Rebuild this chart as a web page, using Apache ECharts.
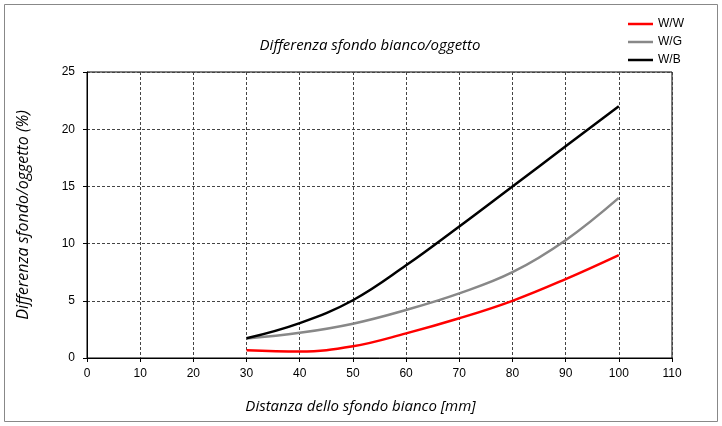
<!DOCTYPE html>
<html><head><meta charset="utf-8">
<script src="https://cdn.jsdelivr.net/npm/echarts@6/dist/echarts.min.js"></script>
<style>html,body{margin:0;padding:0;background:#fff}#c{width:722px;height:426px}</style>
</head><body><div id="c"></div>
<script>
const xValues = [30, 40, 50, 60, 70, 80, 90, 100];
const wW = [0.68, 0.57, 1.02, 2.15, 3.47, 5.0, 6.9, 9.0];
const wG = [1.7, 2.2, 3.0, 4.2, 5.65, 7.5, 10.3, 14.0];
const wB = [1.72, 3.05, 5.05, 8.1, 11.5, 15.0, 18.5, 22.0];
const seriesNames = ['W/W', 'W/G', 'W/B'];
const seriesColors = ['#ff0000', '#888888', '#000000'];
const titleText = 'Differenza sfondo bianco/oggetto';
const xName = 'Distanza dello sfondo bianco [mm]';
const yName = 'Differenza sfondo/oggetto (%)';

const pair = arr => xValues.map((x, i) => [x, arr[i]]);
const chart = echarts.init(document.getElementById('c'), null, {renderer: 'canvas'});
const italicFont = 'Open Sans';
chart.setOption({
  animation: false,
  backgroundColor: '#fff',
  title: {
    text: titleText, left: 365, top: 33, textAlign: 'center',
    textStyle: {fontFamily: italicFont, fontStyle: 'italic', fontWeight: 'normal', fontSize: 15, color: '#000'}
  },
  legend: {
    orient: 'vertical', left: 623, top: 13, itemGap: 6,
    itemWidth: 25, itemHeight: 12, icon: 'path://M0,5 L25,5 L25,7.5 L0,7.5 Z',
    textStyle: {fontFamily: 'Liberation Sans', fontSize: 12, color: '#000'},
    data: seriesNames
  },
  grid: {left: 87, right: 50, top: 72, bottom: 68, show: true, borderColor: '#000', borderWidth: 1},
  xAxis: {
    type: 'value', min: 0, max: 110, interval: 10,
    name: xName, nameLocation: 'middle', nameGap: 41,
    nameTextStyle: {fontFamily: italicFont, fontStyle: 'italic', fontSize: 15, color: '#000', padding: [0, 38, 0, 0]},
    axisLine: {lineStyle: {color: '#000', width: 1}},
    axisTick: {show: true, length: 4, lineStyle: {color: '#000'}},
    axisLabel: {fontFamily: 'Liberation Sans', fontSize: 12, color: '#000', margin: 10},
    splitLine: {show: true, lineStyle: {color: '#444', type: [3, 2], width: 1}}
  },
  yAxis: {
    type: 'value', min: 0, max: 25, interval: 5,
    name: yName, nameLocation: 'middle', nameGap: 56,
    nameTextStyle: {fontFamily: italicFont, fontStyle: 'italic', fontSize: 16, color: '#000'},
    axisLine: {show: true, lineStyle: {color: '#000', width: 1}},
    axisTick: {show: true, length: 4, lineStyle: {color: '#000'}},
    axisLabel: {fontFamily: 'Liberation Sans', fontSize: 12, color: '#000', margin: 12},
    splitLine: {show: true, lineStyle: {color: '#444', type: [3, 2], width: 1}}
  },
  graphic: [{
    type: 'rect', shape: {x: 4.5, y: 4.5, width: 713, height: 417},
    style: {fill: 'none', stroke: '#888', lineWidth: 1}, silent: true, z: -1
  }],
  series: [wW, wG, wB].map((d, i) => ({
    name: seriesNames[i], type: 'line', data: pair(d), smooth: 0.4,
    showSymbol: false, symbol: 'none',
    lineStyle: {color: seriesColors[i], width: 2.5},
    itemStyle: {color: seriesColors[i]}
  }))
});
</script></body></html>
